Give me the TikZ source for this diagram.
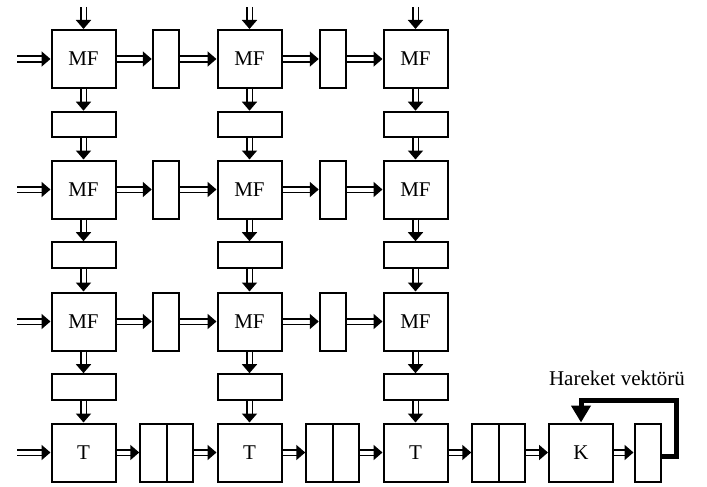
\documentclass[tikz,border=0pt]{standalone}
\usepackage{fontspec}
\setmainfont{Liberation Serif}
\usetikzlibrary{arrows.meta}
\begin{document}
\begin{tikzpicture}[
		x=1pt, y=-1pt,
		box/.style = {draw, line width=2pt, inner sep=0pt, font=\fontsize{21}{25}\selectfont},
		main/.style = {box, minimum width=64pt, minimum height=58pt},
		vbox/.style = {box, minimum width=26.5pt, minimum height=58pt},
		hbox/.style = {box, minimum width=64pt, minimum height=25.6pt},
		pipe/.style = {draw, double, line width=1.8pt, double distance=4pt, -{Triangle[length=9pt,width=15pt]}},
		back/.style = {draw, line width=5pt, -{Triangle[length=17pt,width=19pt]}},
		]
		\useasboundingbox (0,0) rectangle (707,487);
		% motion filter grid
		\foreach \r/\y in {1/59, 2/189.5, 3/321.5}
		\foreach \c/\x in {1/83.5, 2/249.5, 3/415.5} {
			\node[main] (mf\r\c) at (\x,\y) {MF};
			\node[hbox] (h\r\c) at (\x,\y+65.5) {};
		}
		\foreach \r/\y in {1/59, 2/189.5, 3/321.5} {
			\node[vbox] (v\r1) at (166,\y) {};
			\node[vbox] (v\r2) at (333,\y) {};
			\coordinate (left\r) at (17,\y);
		}
		% bottom row
		\node[main] (t1) at (83.5,452.5) {T};
		\node[vbox] (d1a) at (153.5,452.5) {};
		\node[vbox] (d1b) at (180,452.5) {};
		\node[main] (t2) at (249.5,452.5) {T};
		\node[vbox] (d2a) at (319.5,452.5) {};
		\node[vbox] (d2b) at (346,452.5) {};
		\node[main] (t3) at (415.5,452.5) {T};
		\node[vbox] (d3a) at (485.5,452.5) {};
		\node[vbox] (d3b) at (512,452.5) {};
		\node[main] (k) at (581,452.5) {K};
		\node[vbox, minimum width=26pt] (s) at (647.5,452.5) {};
		\coordinate (left4) at (17,452.5);
		\coordinate (fb) at (676,400);
		\node[font=\fontsize{21}{25}\selectfont] (hv) at (617,378) {Hareket vektörü};
		% connectors
		\foreach \c/\x in {1/83.5, 2/249.5, 3/415.5} {
			\coordinate (in\c) at (\x,7);
			\draw[pipe] (in\c) -- (mf1\c);
			\draw[pipe] (mf1\c) -- (h1\c);
			\draw[pipe] (h1\c) -- (mf2\c);
			\draw[pipe] (mf2\c) -- (h2\c);
			\draw[pipe] (h2\c) -- (mf3\c);
			\draw[pipe] (mf3\c) -- (h3\c);
			\draw[pipe] (h3\c) -- (t\c);
		}
		\foreach \r in {1,2,3} {
			\draw[pipe] (left\r) -- (mf\r1);
			\draw[pipe] (mf\r1) -- (v\r1);
			\draw[pipe] (v\r1) -- (mf\r2);
			\draw[pipe] (mf\r2) -- (v\r2);
			\draw[pipe] (v\r2) -- (mf\r3);
		}
		\draw[pipe] (left4) -- (t1);
		\draw[pipe] (t1) -- (d1a);
		\draw[pipe] (d1b) -- (t2);
		\draw[pipe] (t2) -- (d2a);
		\draw[pipe] (d2b) -- (t3);
		\draw[pipe] (t3) -- (d3a);
		\draw[pipe] (d3b) -- (k);
		\draw[pipe] (k) -- (s);
		\draw[back] ([yshift=-4pt]s.east) -| (fb) -| (k.north);
	\end{tikzpicture}
\end{document}
